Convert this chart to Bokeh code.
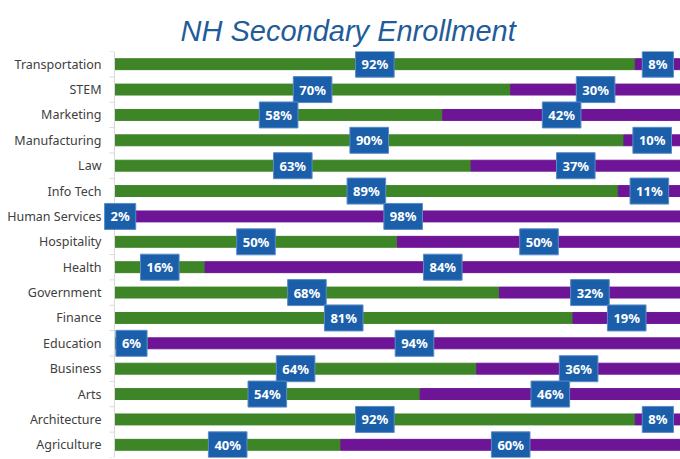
from bokeh.plotting import figure
from bokeh.models import ColumnDataSource, FixedTicker, Range1d, Label, Span
from bokeh.embed import file_html
from bokeh.resources import INLINE

categories = ["Transportation", "STEM", "Marketing", "Manufacturing", "Law", "Info Tech",
              "Human Services", "Hospitality", "Health", "Government", "Finance",
              "Education", "Business", "Arts", "Architecture", "Agriculture"]
green_pct = [92, 70, 58, 90, 63, 89, 2, 50, 16, 68, 81, 6, 64, 54, 92, 40]
purple_pct = [8, 30, 42, 10, 37, 11, 98, 50, 84, 32, 19, 94, 36, 46, 8, 60]

GREEN = "#3E8528"
PURPLE = "#6E1597"
BOX = "#1B5FAA"
AXIS = "#D9D9D9"

n = len(categories)
ys = [n - 1 - i for i in range(n)]  # top to bottom
g = [v / 100 for v in green_pct]
pu = [v / 100 for v in purple_pct]
src = ColumnDataSource(dict(
    y=ys, cat=categories,
    g_end=g, p_end=[a + b for a, b in zip(g, pu)],
    zero=[0] * n,
))

# frame starts 11px left of the value axis so edge labels are not clipped
PX = 566.0
x_start = -11 / PX
p = figure(width=680, height=459, output_backend="svg", toolbar_location=None,
           x_range=Range1d(x_start, 1), y_range=Range1d(-0.5, n - 0.5),
           min_border_left=103, min_border_right=0, min_border_top=51,
           min_border_bottom=2)
p.outline_line_color = None
p.grid.grid_line_color = None
p.xaxis.visible = False

p.title.text = "NH Secondary Enrollment"
p.title.align = "left"
p.title.vertical_align = "top"
p.title.text_font = "Liberation Sans"
p.title.text_font_style = "italic"
p.title.text_font_size = "29px"
p.title.text_line_height = 1.0
p.title.text_color = "#1F5C99"
p.title.offset = 77
p.title.standoff = 5

# value axis line and category separators
p.add_layout(Span(location=0, dimension="height", line_color=AXIS, line_width=1))
bounds = [k - 0.5 for k in range(n + 1)]
p.segment(x0=[-5 / PX] * len(bounds), y0=bounds, x1=[0] * len(bounds), y1=bounds,
          line_color=AXIS, line_width=1)

p.hbar(y="y", left="zero", right="g_end", height=0.43, color=GREEN, source=src)
p.hbar(y="y", left="g_end", right="p_end", height=0.43, color=PURPLE, source=src)

for y, gv, pv, gp, pp in zip(ys, g, pu, green_pct, purple_pct):
    for xm, txt in ((gv / 2, f"{gp}%"), (gv + pv / 2, f"{pp}%")):
        p.add_layout(Label(x=xm, y=y, text=txt, text_align="center", text_baseline="middle",
                           text_color="white", text_font="Noto Sans", text_font_style="bold",
                           text_font_size="13px", background_fill_color=BOX,
                           border_line_color="#5A8BC8", border_line_width=1,
                           padding=(6, 4)))

ax = p.yaxis[0]
ax.ticker = FixedTicker(ticks=ys)
ax.major_label_overrides = {y: c for y, c in zip(ys, categories)}
ax.major_tick_line_color = None
ax.major_tick_out = 0
ax.major_tick_in = 0
ax.minor_tick_line_color = None
ax.axis_line_color = None
ax.major_label_text_font = "Noto Sans"
ax.major_label_text_font_size = "12.5px"
ax.major_label_text_color = "#404040"
ax.major_label_standoff = 2

open("out.html", "w").write(file_html(p, INLINE))
